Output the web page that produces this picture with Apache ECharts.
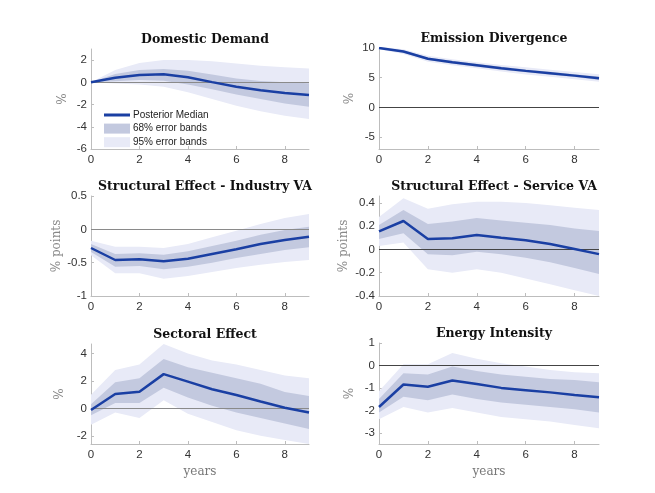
<!DOCTYPE html>
<html><head><meta charset="utf-8">
<script src="https://cdn.jsdelivr.net/npm/echarts@6/dist/echarts.min.js"></script>
<style>html,body{margin:0;padding:0;background:#fff}#c{width:655px;height:493px}</style>
</head><body><div id="c"></div>
<script>
var years = [0,1,2,3,4,5,6,7,8,9];

var titles = ['Domestic Demand','Emission Divergence','Structural Effect - Industry VA','Structural Effect - Service VA','Sectoral Effect','Energy Intensity'];
var yNames = ['%','%','% points','% points','%','%'];

var ddMed = [0,0.42,0.67,0.72,0.46,0.02,-0.40,-0.72,-0.96,-1.15];
var dd68u = [0,0.75,1.1,1.2,1.05,0.7,0.35,0.12,0,-0.08];
var dd68l = [0,0.1,0.2,0.15,-0.2,-0.62,-1.1,-1.5,-1.9,-2.2];
var dd95u = [0,1.1,1.75,2.0,2.0,1.9,1.7,1.5,1.35,1.25];
var dd95l = [0,-0.1,-0.2,-0.4,-0.9,-1.5,-2.1,-2.6,-3.0,-3.3];

var edMed = [10,9.4,8.2,7.6,7.1,6.6,6.15,5.75,5.35,4.9];
var ed68u = [10.1,9.6,8.4,7.85,7.35,6.85,6.4,6.0,5.6,5.2];
var ed68l = [9.9,9.2,8.0,7.35,6.85,6.35,5.9,5.5,5.1,4.6];
var ed95u = [10.2,9.8,8.7,8.1,7.6,7.15,6.75,6.35,5.95,5.6];
var ed95l = [9.8,9.0,7.7,7.1,6.6,6.05,5.55,5.15,4.75,4.3];

var ivMed = [-0.28,-0.46,-0.45,-0.48,-0.44,-0.37,-0.30,-0.22,-0.16,-0.11];
var iv68u = [-0.22,-0.37,-0.36,-0.38,-0.33,-0.25,-0.17,-0.08,-0.01,0.04];
var iv68l = [-0.34,-0.56,-0.55,-0.60,-0.56,-0.50,-0.43,-0.37,-0.31,-0.27];
var iv95u = [-0.17,-0.26,-0.26,-0.28,-0.22,-0.12,-0.02,0.08,0.17,0.23];
var iv95l = [-0.39,-0.66,-0.66,-0.74,-0.70,-0.64,-0.58,-0.53,-0.49,-0.46];

var svMed = [0.155,0.245,0.09,0.097,0.125,0.10,0.08,0.047,0.005,-0.04];
var sv68u = [0.21,0.34,0.22,0.24,0.27,0.25,0.23,0.21,0.18,0.16];
var sv68l = [0.09,0.14,-0.04,-0.05,-0.02,-0.04,-0.07,-0.11,-0.16,-0.21];
var sv95u = [0.28,0.44,0.35,0.39,0.41,0.41,0.40,0.38,0.36,0.34];
var sv95l = [0.03,0.06,-0.17,-0.20,-0.17,-0.20,-0.25,-0.30,-0.35,-0.40];

var seMed = [-0.12,1.05,1.22,2.5,1.95,1.4,0.98,0.5,0.05,-0.3];
var se68u = [0.3,1.9,2.2,3.6,3.0,2.6,2.2,1.8,1.2,0.9];
var se68l = [-0.5,0.4,0.4,1.5,0.8,0.2,-0.3,-0.7,-1.1,-1.5];
var se95u = [1.0,2.8,3.2,4.7,4.0,3.5,3.2,2.8,2.4,2.2];
var se95l = [-1.2,-0.3,-0.7,0.6,-0.4,-1.0,-1.6,-2.0,-2.3,-2.6];

var eiMed = [-1.85,-0.85,-0.95,-0.67,-0.83,-1.0,-1.1,-1.2,-1.32,-1.42];
var ei68u = [-1.5,-0.35,-0.4,-0.05,-0.25,-0.4,-0.5,-0.6,-0.65,-0.75];
var ei68l = [-2.1,-1.4,-1.55,-1.3,-1.5,-1.65,-1.75,-1.85,-1.95,-2.1];
var ei95u = [-1.15,0.05,0.05,0.55,0.3,0.1,-0.05,-0.2,-0.3,-0.35];
var ei95l = [-2.4,-1.85,-2.1,-1.9,-2.1,-2.3,-2.4,-2.5,-2.65,-2.8];

var yTicks1 = [-6,-4,-2,0,2];
var yTicks2 = [-5,0,5,10];
var yTicks3 = [-1,-0.5,0,0.5];
var yTicks4 = [-0.4,-0.2,0,0.2,0.4];
var yTicks5 = [-2,0,2,4];
var yTicks6 = [-3,-2,-1,0,1];

var yMins = [-6,-7,-1,-0.4,-2.6,-3.5];
var yMaxs = [3,10,0.5,0.46,4.7,1];

var panels = [
  [ddMed,dd68u,dd68l,dd95u,dd95l,yTicks1],
  [edMed,ed68u,ed68l,ed95u,ed95l,yTicks2],
  [ivMed,iv68u,iv68l,iv95u,iv95l,yTicks3],
  [svMed,sv68u,sv68l,sv95u,sv95l,yTicks4],
  [seMed,se68u,se68l,se95u,se95l,yTicks5],
  [eiMed,ei68u,ei68l,ei95u,ei95l,yTicks6]
];

var grids = [
  {left:91,top:49,width:218,height:100},
  {left:379,top:48,width:220,height:101},
  {left:91,top:196,width:218,height:100},
  {left:379,top:196,width:220,height:100},
  {left:91,top:344,width:218,height:100},
  {left:379,top:343,width:220,height:101}
];
var nameGaps = [22,23,28,29,25,23];
var zeroColors = ['#8a8a8a','#444','#8a8a8a','#444','#8a8a8a','#444'];

var C_MED = '#1a3fa3', C68 = '#c3c9df', C95 = '#e8eaf7';
var serif = '"DejaVu Serif", "Liberation Serif", serif';
var sans = '"Liberation Sans", Arial, sans-serif';

function diffs(u,l){ return u.map(function(v,i){return v - l[i];}); }
var evenOnly = function(i){ return i % 2 === 0; };

var option = {backgroundColor:'#fff', animation:false, title:[], grid:[], xAxis:[], yAxis:[], series:[],
  legend:{
    left:99, top:105, orient:'vertical', itemWidth:26, itemHeight:10, itemGap:3.6,
    symbolKeepAspect:true,
    textStyle:{fontFamily:sans, fontSize:10, color:'#222', padding:[0,0,0,-2]},
    data:[
      {name:'Posterior Median', icon:'path://M0,0 L26,0 L26,3 L0,3 Z', itemStyle:{color:C_MED}},
      {name:'68% error bands', icon:'rect', itemStyle:{color:C68}},
      {name:'95% error bands', icon:'rect', itemStyle:{color:C95}}
    ]
  }
};

panels.forEach(function(p, k){
  var g = grids[k];
  option.grid.push(g);
  option.title.push({
    text: titles[k], left: g.left + g.width/2, top: g.top - 21, textAlign:'center',
    textStyle:{fontFamily:serif, fontWeight:'bold', fontSize:12.5, color:'#111'}
  });
  var bottomRow = k >= 4;
  option.xAxis.push({
    type:'category', gridIndex:k, data:years, boundaryGap:false,
    name: bottomRow ? 'years' : '', nameLocation:'middle', nameGap:22,
    nameTextStyle:{fontFamily:serif, fontSize:12, color:'#777'},
    axisLine:{show:true, onZero:false, lineStyle:{color:'#bdbdbd'}},
    axisTick:{show:true, inside:true, length:3, interval:evenOnly, alignWithLabel:true, lineStyle:{color:'#bdbdbd'}},
    axisLabel:{interval:evenOnly, fontFamily:sans, fontSize:11.5, color:'#333', margin:5},
    splitLine:{show:false}
  });
  option.yAxis.push({
    type:'value', gridIndex:k, min:yMins[k], max:yMaxs[k],
    name: yNames[k], nameLocation:'middle', nameGap:nameGaps[k], nameRotate:90,
    nameTextStyle:{fontFamily:serif, fontSize:12, color:'#888'},
    axisLine:{show:true, onZero:false, lineStyle:{color:'#bdbdbd'}},
    axisTick:{show:true, inside:true, length:3, customValues:p[5], lineStyle:{color:'#bdbdbd'}},
    axisLabel:{customValues:p[5], fontFamily:sans, fontSize:11.5, color:'#333', margin:4},
    splitLine:{show:false}
  });
  var base = {type:'line', xAxisIndex:k, yAxisIndex:k, showSymbol:false, symbol:'none', silent:true};
  option.series.push(Object.assign({}, base, {
    name:'95 low '+k, data:p[4], stack:'b95_'+k, stackStrategy:'all',
    lineStyle:{opacity:0}, z:1
  }));
  option.series.push(Object.assign({}, base, {
    name: k===0 ? '95% error bands' : '95b'+k, data:diffs(p[3],p[4]), stack:'b95_'+k, stackStrategy:'all',
    lineStyle:{opacity:0}, areaStyle:{color:C95, opacity:1}, itemStyle:{color:C95}, z:1
  }));
  option.series.push(Object.assign({}, base, {
    name:'68 low '+k, data:p[2], stack:'b68_'+k, stackStrategy:'all',
    lineStyle:{opacity:0}, z:2
  }));
  option.series.push(Object.assign({}, base, {
    name: k===0 ? '68% error bands' : '68b'+k, data:diffs(p[1],p[2]), stack:'b68_'+k, stackStrategy:'all',
    lineStyle:{opacity:0}, areaStyle:{color:C68, opacity:1}, itemStyle:{color:C68}, z:2
  }));
  option.series.push(Object.assign({}, base, {
    name: k===0 ? 'Posterior Median' : 'med'+k, data:p[0],
    lineStyle:{color:C_MED, width:2.5}, itemStyle:{color:C_MED}, z:6,
    markLine:{silent:true, symbol:'none', label:{show:false}, z:5,
      lineStyle:{color:zeroColors[k], width:1, type:'solid'}, data:[{yAxis:0}]}
  }));
});

var chart = echarts.init(document.getElementById('c'), null, {renderer:'canvas'});
chart.setOption(option);
</script></body></html>
